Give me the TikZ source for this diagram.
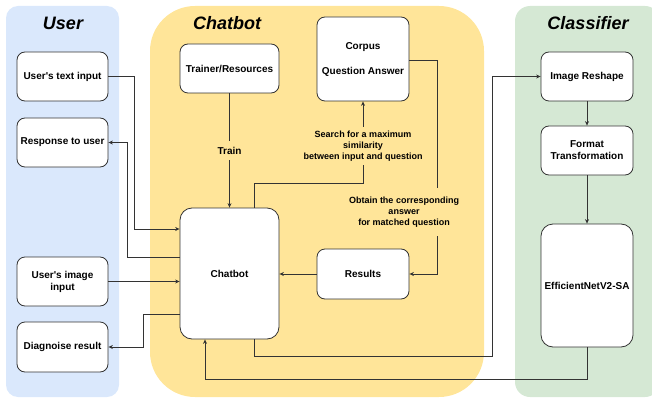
\documentclass[tikz,border=0pt]{standalone}
\usepackage{fontspec}
\setmainfont{Liberation Sans}[Ligatures=TeXOff]
\usetikzlibrary{arrows.meta}
\definecolor{ublue}{HTML}{DAE8FC}
\definecolor{cyell}{HTML}{FFE599}
\definecolor{cgreen}{HTML}{D5E8D4}
\definecolor{lne}{HTML}{333333}
\tikzset{
  box/.style={draw=lne, fill=white, rounded corners=8pt, align=center, inner sep=0pt, font=\fontsize{10}{12}\selectfont\bfseries, line width=0.8pt},
  arr/.style={draw=lne, line width=0.8pt, -{Stealth[length=4.5pt,width=4pt]}},
  lbl/.style={fill=cyell, align=center, inner sep=2pt, font=\fontsize{9}{11}\selectfont\bfseries},
  ttl/.style={font=\fontsize{18}{20}\selectfont\bfseries\itshape},
}
\begin{document}
\begin{tikzpicture}[x=1pt,y=-1pt]
\useasboundingbox (0,0) rectangle (652,398);
% panels
\fill[ublue, rounded corners=12pt] (6,6) rectangle (119,397);
\fill[cyell, rounded corners=45pt] (150,6) rectangle (484,397);
\fill[cgreen, rounded corners=15pt] (515,6) rectangle (660,397);
\node[ttl] (tuser) at (63,23) {User};
\node[ttl] (tchat) at (227,23) {Chatbot};
\node[ttl] (tclass) at (588,23) {Classifier};
% nodes
\node[box, minimum width=91pt, minimum height=49pt] (utext) at (62.5,76.5) {User's text input};
\node[box, minimum width=91pt, minimum height=49pt] (resp) at (62.5,142.5) {Response to user};
\node[box, minimum width=91pt, minimum height=49pt] (uimg) at (62.5,281.5) {User's image\\input};
\node[box, minimum width=91pt, minimum height=50pt] (diag) at (62.5,347) {Diagnoise result};
\node[box, minimum width=99pt, minimum height=49pt] (trainer) at (229.5,68.5) {Trainer/Resources};
\node[box, minimum width=92pt, minimum height=84pt, font=\fontsize{10}{25}\selectfont\bfseries] (corpus) at (363,59) {Corpus\\Question Answer};
\node[box, minimum width=99pt, minimum height=131pt, rounded corners=12pt] (chat) at (229.5,273.5) {Chatbot};
\node[box, minimum width=92pt, minimum height=50pt] (results) at (363,274) {Results};
\node[box, minimum width=92pt, minimum height=49pt] (reshape) at (587,76.5) {Image Reshape};
\node[box, minimum width=92pt, minimum height=49pt] (format) at (587,150.5) {Format\\Transformation};
\node[box, minimum width=92pt, minimum height=123pt, rounded corners=12pt] (effnet) at (587,285.5) {EfficientNetV2-SA};
% connectors
\draw[arr] (utext.east) -- (134,76.5) -- (134,229) -- (chat.west |- 0,229);
\draw[arr] (chat.west |- 0,257) -- (127,257) -- (127,142.5) -- (resp.east);
\draw[arr] (uimg.east) -- (uimg.east -| chat.west);
\draw[arr] (chat.west |- 0,314) -- (143,314) -- (143,347) -- (diag.east);
\draw[arr] (trainer.south) -- node[lbl, font=\fontsize{10}{12}\selectfont\bfseries, inner ysep=6pt] (ltrain) {Train} (chat.north);
\draw[arr] (chat.north -| 254,0) -- (254,183) -- (363,183) -- node[lbl, pos=0.45, inner ysep=4pt] (lsearch) {Search for a maximum\\similarity\\between input and question} (corpus.south);
\draw[arr] (corpus.east |- 0,60) -- (437,60) -- (437,274) -- (results.east);
\node[lbl, inner ysep=9pt] (lobtain) at (404,212) {Obtain the corresponding\\answer\\for matched question};
\draw[arr] (results.west) -- (results.west -| chat.east);
\draw[arr] (chat.south -| 254,0) -- (254,356) -- (492,356) -- (492,76.5) -- (reshape.west);
\draw[arr] (reshape.south) -- (format.north);
\draw[arr] (format.south) -- (effnet.north);
\draw[arr] (effnet.south) -- (587,379) -- (205,379) -- (chat.south -| 205,0);
\end{tikzpicture}
\end{document}
